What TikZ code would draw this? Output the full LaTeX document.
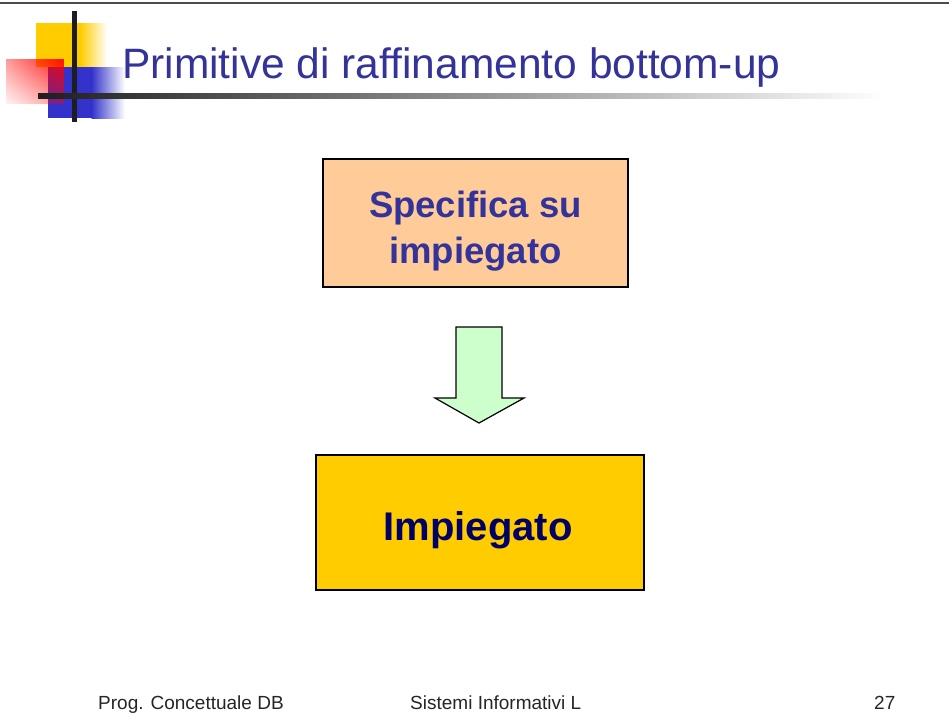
\documentclass[tikz,border=0pt]{standalone}
\usepackage{fontspec}
\setmainfont{Liberation Sans}
\usetikzlibrary{fadings,shadings}
\definecolor{titleblue}{HTML}{333399}
\definecolor{navy}{HTML}{000066}
\definecolor{peach}{HTML}{FFCC99}
\definecolor{gold}{HTML}{FFCC00}
\definecolor{mint}{HTML}{CCFFCC}
\definecolor{logoblue}{HTML}{3333CC}
\definecolor{barblack}{HTML}{1E1E1E}
\begin{tikzfadingfrompicture}[name=redfade]
\shade[upper right=transparent!0, lower left=transparent!100,
       upper left=transparent!62, lower right=transparent!62] (0,0) rectangle (2,2);
\end{tikzfadingfrompicture}
\tikzset{
  box/.style={draw=black, line width=1.2pt, inner sep=0pt},
  boxtext/.style={inner sep=0pt, align=center},
  foottext/.style={anchor=base west, inner sep=0pt, font=\fontsize{19}{22}\selectfont, text=black!85},
}
\begin{document}
\begin{tikzpicture}[x=1pt,y=-1pt]
\useasboundingbox (0,0) rectangle (949,720);
\fill[white] (0,0) rectangle (949,720);
% top rule
\fill[black!70] (0,1.5) rectangle (949,4);
% logo
\fill[gold] (36,23) rectangle (81,67);
\shade[left color=gold, right color=white] (80.5,23) rectangle (107,67);
\fill[logoblue] (48,67) rectangle (92,118);
\shade[left color=logoblue, right color=white] (91.5,67) rectangle (125,118);
\fill[red, path fading=redfade] (6,59) rectangle (64,104);
\fill[barblack] (72,11) rectangle (77,122);
\shade[left color=barblack, right color=white] (38,93) rectangle (885,98);
% title
\node[anchor=base west, inner sep=0pt, text=titleblue, font=\fontsize{42.5}{50}\selectfont] (title) at (122,78) {Primitive di raffinamento bottom-up};
% boxes
\node[box, fill=peach, minimum width=305pt, minimum height=128pt] (spec) at (475.5,223) {};
\node[boxtext, text=titleblue, font=\bfseries\fontsize{36.5}{46}\selectfont] (spectext) at (475.5,231) {Specifica su\\impiegato};
\node[box, fill=gold, minimum width=328pt, minimum height=135pt] (imp) at (480,522.5) {};
\node[boxtext, text=navy, font=\bfseries\fontsize{40}{48}\selectfont, anchor=base] (imptext) at (478,540) {Impiegato};
% block arrow
\draw[fill=mint, line width=1.2pt, line join=miter]
  (456,327) -- (502,327) -- (502,398) -- (524,398) -- (479,423) -- (435,398) -- (456,398) -- cycle;
% footer
\node[foottext] (f1) at (98,709) {Prog. Concettuale DB};
\node[foottext] (f2) at (410,709) {Sistemi Informativi L};
\node[foottext] (f3) at (874,709) {27};
\end{tikzpicture}
\end{document}
